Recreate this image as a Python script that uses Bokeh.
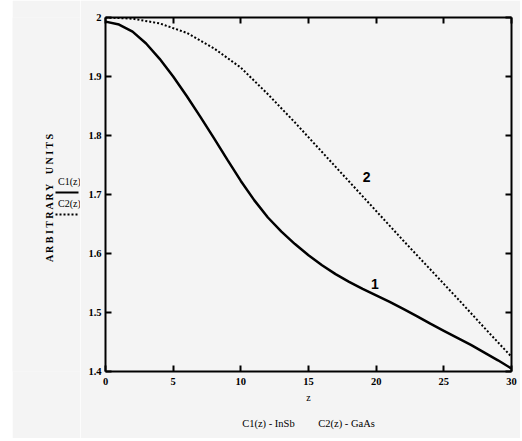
import math
from bokeh.plotting import figure
from bokeh.layouts import row
from bokeh.models import (Range1d, FixedTicker, LinearAxis, Label, Title, Spacer)
from bokeh.core.properties import value
from bokeh.embed import file_html
from bokeh.resources import INLINE

# ---- data ----
z1 = [0, 1, 2, 3, 4, 5, 6, 7, 8, 9, 10, 11, 12, 13, 14, 15, 16, 17, 18, 19,
      20, 21, 22, 23, 24, 25, 26, 27, 28, 29, 30]
c1 = [1.993, 1.988, 1.976, 1.956, 1.930, 1.900, 1.867, 1.832, 1.796, 1.759,
      1.723, 1.690, 1.661, 1.637, 1.616, 1.597, 1.580, 1.565, 1.552, 1.540,
      1.529, 1.518, 1.506, 1.494, 1.481, 1.469, 1.457, 1.445, 1.432, 1.419,
      1.405]
z2 = [0, 2, 4, 6, 8, 10, 12, 14, 16, 18, 20, 22, 24, 26, 28, 30]
c2 = [2.000, 1.998, 1.990, 1.974, 1.948, 1.915, 1.870, 1.822, 1.772, 1.722,
      1.672, 1.622, 1.573, 1.524, 1.474, 1.425]

x_ticks = [0, 5, 10, 15, 20, 25, 30]
y_ticks = [1.4, 1.5, 1.6, 1.7, 1.8, 1.9, 2.0]
y_tick_labels = ["1.4", "1.5", "1.6", "1.7", "1.8", "1.9", "2"]

y_title = "A R B I T R A R Y \u00a0\u00a0 U N I T S"
x_title = "z"
caption = "C1(z) - InSb \u00a0\u00a0\u00a0\u00a0\u00a0\u00a0\u00a0 C2(z) - GaAs"
series_names = ["C1(z)", "C2(z)"]

BG = "#f4f4f4"
SERIF = "Liberation Serif"
H = 438
FRAME_TOP, FRAME_BOTTOM = 17, 373   # page pixels of the plotting frame

# ---------- left strip: axis title and key (pixel coordinates) ----------
q = figure(width=68, height=H, output_backend="svg", toolbar_location=None,
           x_range=Range1d(12, 80), y_range=Range1d(FRAME_BOTTOM, FRAME_TOP),
           min_border=0, background_fill_color=BG, border_fill_color=BG)
q.axis.visible = False
q.grid.visible = False
q.outline_line_color = None
q.text(x=[48.5], y=[197], text=[y_title], angle=math.pi / 2,
       text_font=value(SERIF), text_font_style="bold", text_font_size="10px",
       text_align="center", text_baseline="middle", text_color="black")
q.text(x=[69, 69], y=[182, 204], text=series_names,
       text_font=value(SERIF), text_font_size="10px",
       text_align="center", text_baseline="middle", text_color="black")
q.line([55, 78], [193, 193], line_color="black", line_width=2)
q.line([55, 78], [215, 215], line_color="black", line_width=2, line_dash="2 2")

# ---------- main plot ----------
p = figure(width=440, height=H, output_backend="svg", toolbar_location=None,
           x_range=Range1d(0, 30), y_range=Range1d(1.4, 2.0),
           min_border_left=25, min_border_right=9, min_border_top=17,
           min_border_bottom=20,
           background_fill_color=BG, border_fill_color=BG,
           x_axis_label=x_title)
p.grid.visible = False
p.outline_line_color = None

for ax in (p.xaxis[0], p.yaxis[0]):
    ax.axis_line_width = 2
    ax.major_tick_line_width = 2
    ax.major_tick_in = 6
    ax.major_tick_out = 0
    ax.minor_tick_line_color = None
    ax.major_label_text_font = SERIF
    ax.major_label_text_font_style = "bold"
    ax.major_label_text_font_size = "10.5px"
    ax.major_label_text_color = "black"
    ax.axis_label_text_font = SERIF
    ax.axis_label_text_font_style = "normal"
    ax.axis_label_text_color = "black"

p.xaxis[0].ticker = FixedTicker(ticks=x_ticks)
p.yaxis[0].ticker = FixedTicker(ticks=y_ticks)
p.yaxis[0].major_label_overrides = dict(zip(y_ticks, y_tick_labels))
p.xaxis[0].major_label_standoff = 6
p.yaxis[0].major_label_standoff = 4
p.xaxis[0].axis_label_text_font_size = "10px"
p.xaxis[0].axis_label_standoff = 4

top = LinearAxis(ticker=FixedTicker(ticks=x_ticks),
                 major_label_overrides={t: "" for t in x_ticks})
right = LinearAxis(ticker=FixedTicker(ticks=y_ticks),
                   major_label_overrides={t: "" for t in y_ticks})
for ax in (top, right):
    ax.axis_line_width = 2
    ax.major_tick_line_width = 2
    ax.major_tick_in = 6
    ax.major_tick_out = 0
    ax.minor_tick_line_color = None
    ax.major_label_standoff = 0
p.add_layout(top, "above")
p.add_layout(right, "right")

p.line(z1, c1, line_color="black", line_width=2.5)
p.line(z2, c2, line_color="black", line_width=2, line_dash="2 2")

p.add_layout(Label(x=19.9, y=1.548, text="1", text_font="Liberation Sans",
                   text_font_style="bold", text_font_size="14px",
                   text_color="black",
                   text_align="center", text_baseline="middle"))
p.add_layout(Label(x=19.3, y=1.730, text="2", text_font="Liberation Sans",
                   text_font_style="bold", text_font_size="14px",
                   text_color="black",
                   text_align="center", text_baseline="middle"))

p.add_layout(Title(text=caption, align="center",
                   text_font=SERIF, text_font_style="normal",
                   text_font_size="10.5px", text_color="black",
                   standoff=20), "below")

layout = row(Spacer(width=12, height=H), q, p)
open("out.html", "w").write(file_html(layout, INLINE))
